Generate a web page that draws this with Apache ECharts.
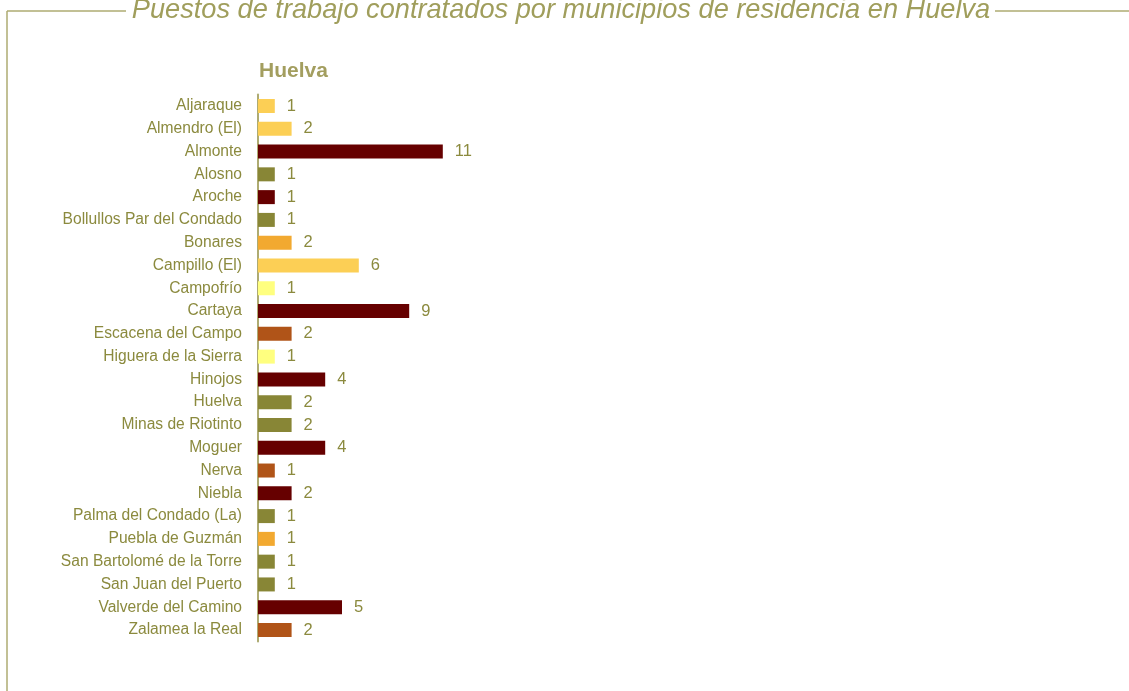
<!DOCTYPE html>
<html><head><meta charset="utf-8">
<script src="https://cdn.jsdelivr.net/npm/echarts@6/dist/echarts.min.js"></script>
<style>html,body{margin:0;padding:0;background:#fff}#c{width:1129px;height:691px}</style>
</head><body><div id="c"></div>
<script>
const categories = ['Aljaraque','Almendro (El)','Almonte','Alosno','Aroche','Bollullos Par del Condado','Bonares','Campillo (El)','Campofrío','Cartaya','Escacena del Campo','Higuera de la Sierra','Hinojos','Huelva','Minas de Riotinto','Moguer','Nerva','Niebla','Palma del Condado (La)','Puebla de Guzmán','San Bartolomé de la Torre','San Juan del Puerto','Valverde del Camino','Zalamea la Real'];
const values = [1,2,11,1,1,1,2,6,1,9,2,1,4,2,2,4,1,2,1,1,1,1,5,2];
const colorGroup = [0,0,1,2,1,2,3,0,4,1,5,4,1,2,2,1,5,1,2,3,2,2,1,5];
const palette = ['#FCCF55','#660000','#888636','#F2A930','#FFFF7F','#B05418'];
const chartTitle = 'Puestos de trabajo contratados por municipios de residencia en Huelva';
const subTitle = 'Huelva';

const font = '"Liberation Sans Narrow","Liberation Sans",sans-serif';
const textColor = '#8B8A3E';
const frameColor = '#AEAB72';
const chart = echarts.init(document.getElementById('c'));
chart.setOption({
  animation:false,
  grid:{left:258,top:94.6,width:336,bottom:49.6},
  xAxis:{type:'value',min:0,max:20,show:false},
  yAxis:{type:'category',data:categories,inverse:true,
    axisLine:{lineStyle:{color:frameColor,width:2}},axisTick:{show:false},
    axisLabel:{color:textColor,fontSize:15.6,fontFamily:font,margin:16,padding:[4,0,0,0]}},
  series:[{type:'bar',barWidth:14,
    data:values.map((v,i)=>({value:v,itemStyle:{color:palette[colorGroup[i]]}})),
    label:{show:true,position:'right',distance:12,color:textColor,fontSize:16.5,fontFamily:font,padding:[4,0,0,0]}}],
  graphic:[
    {type:'line',shape:{x1:7,y1:11,x2:126,y2:11},style:{stroke:frameColor,lineWidth:1.5}},
    {type:'line',shape:{x1:995,y1:11,x2:1129,y2:11},style:{stroke:frameColor,lineWidth:1.5}},
    {type:'line',shape:{x1:7,y1:11,x2:7,y2:691},style:{stroke:frameColor,lineWidth:1.5}},
    {type:'text',x:561,y:10,style:{text:chartTitle,fill:'#A09E5C',font:'italic 27.2px '+font,textAlign:'center',textVerticalAlign:'middle'}},
    {type:'text',x:259,y:71,style:{text:subTitle,fill:'#A39E5F',font:'bold 21px '+font,textAlign:'left',textVerticalAlign:'middle'}}
  ]
});
</script></body></html>
